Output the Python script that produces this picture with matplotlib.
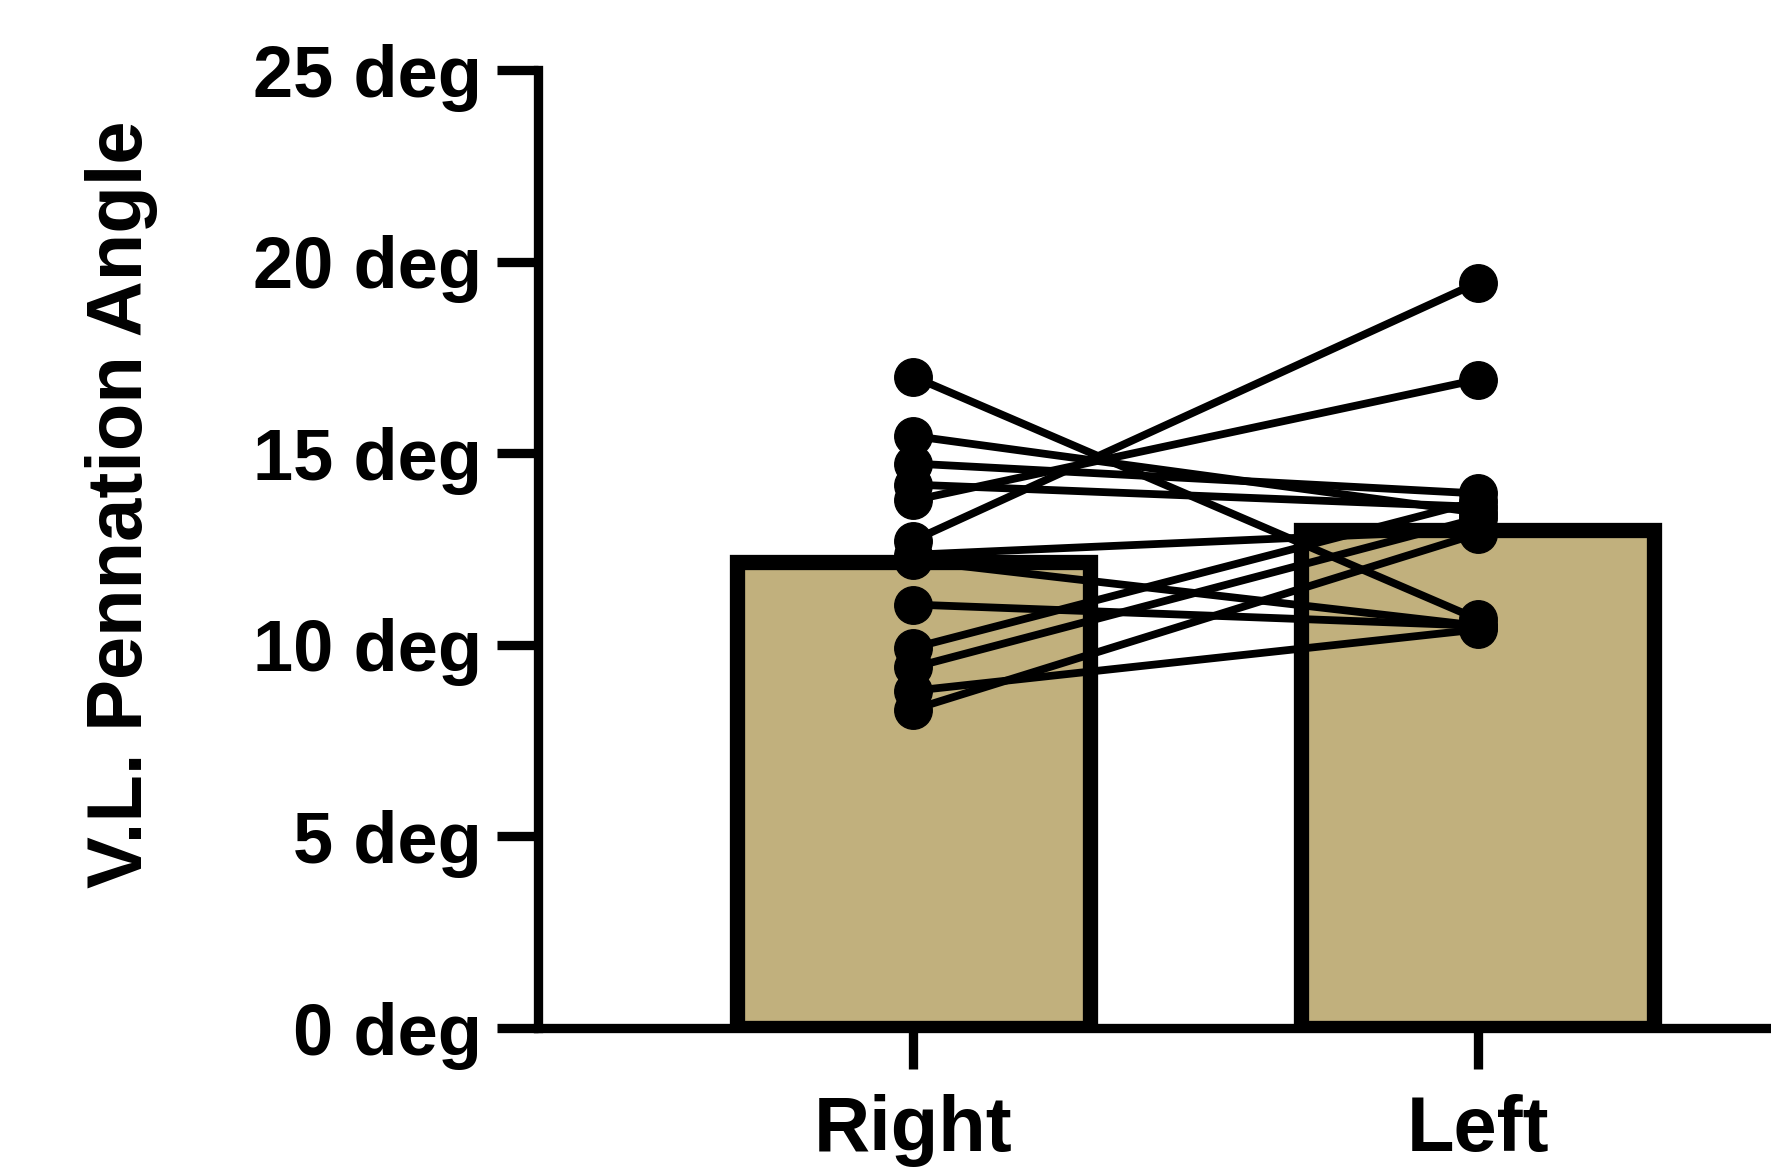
import matplotlib
matplotlib.use('Agg')
import matplotlib.pyplot as plt

plt.rcParams['font.family'] = ['Liberation Sans', 'DejaVu Sans']
plt.rcParams['font.weight'] = 'bold'

groups = ['Right', 'Left']
bar_heights = [12.15, 13.0]
# paired values per subject (right, left)
right_vals = [17.0, 15.45, 14.73, 14.18, 13.77, 12.72, 12.35, 12.2, 11.05, 9.92, 9.41, 8.8, 8.31]
left_vals = [10.67, 13.45, 13.95, 13.6, 16.92, 19.45, 13.0, 10.5, 10.5, 13.75, 13.3, 10.4, 12.9]
y_ticks = [0, 5, 10, 15, 20, 25]
y_labels = [f'{v} deg' for v in y_ticks]

W, H = 1771, 1175
fig = plt.figure(figsize=(W / 100, H / 100), dpi=100)
ax = fig.add_axes([538 / W, 147 / H, 1 - 538 / W, (1028 - 70) / H])

xs = list(range(len(groups)))
ax.bar(xs, bar_heights, width=0.625, color='#C1B07D', edgecolor='black',
       linewidth=11, zorder=1)

for r, l in zip(right_vals, left_vals):
    ax.plot(xs, [r, l], color='black', lw=5.6, marker='o', ms=27,
            zorder=3, clip_on=False)

ax.set_xlim(-0.665, 1.52)
ax.set_ylim(0, 25)
ax.set_yticks(y_ticks)
ax.set_yticklabels(y_labels)
ax.set_xticks(xs)
ax.set_xticklabels(groups)

for s in ['top', 'right']:
    ax.spines[s].set_visible(False)
for s in ['left', 'bottom']:
    ax.spines[s].set_linewidth(6.7)

ax.tick_params(axis='y', length=29.5, width=6.7, labelsize=52, pad=11)
ax.tick_params(axis='x', length=29.5, width=6.7, labelsize=56, pad=18)
for t in ax.get_yticklabels() + ax.get_xticklabels():
    t.set_fontweight('bold')

fig.text(122 / W, 1 - 504 / H, 'V.L. Pennation Angle', rotation=90,
         ha='center', va='center', fontsize=56, fontweight='bold')

fig.savefig('out.png', dpi=100)
